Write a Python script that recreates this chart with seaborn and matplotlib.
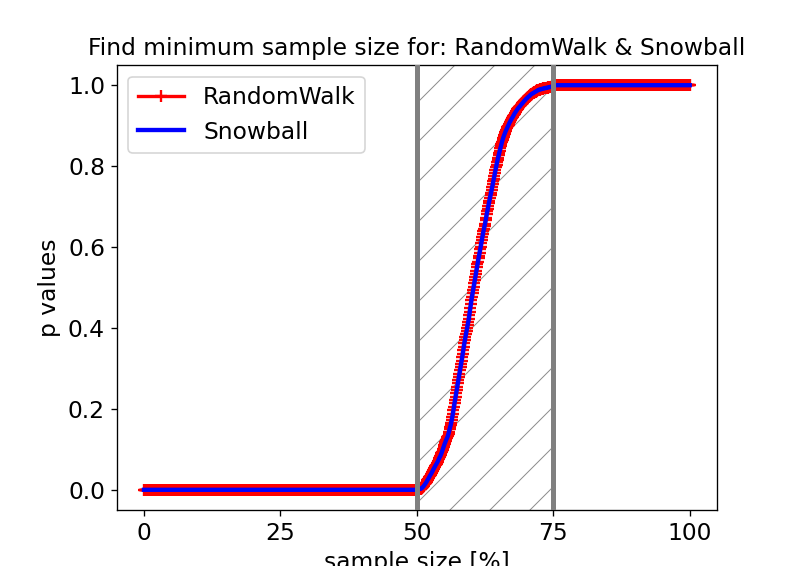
import numpy as np
import matplotlib
matplotlib.use("Agg")
import matplotlib.pyplot as plt
import seaborn as sns

# sample sizes in percent (grid of 0.1 %)
sample_size = np.linspace(0, 100, 1001)

# p values: flat at 0 up to 50 %, rising 50-75 %, flat at 1 after
p_before = [0.0] * 500                     # 0.0 .. 49.9
p_rise = [                                  # 50.0 .. 75.0 step 0.1
    0.000, 0.000, 0.001, 0.001, 0.002, 0.002, 0.002, 0.003, 0.003, 0.004,
    0.005, 0.007, 0.008, 0.010, 0.012, 0.014, 0.016, 0.018, 0.020, 0.023,
    0.025, 0.027, 0.030, 0.032, 0.035, 0.037, 0.039, 0.042, 0.044, 0.047,
    0.050, 0.052, 0.055, 0.057, 0.060, 0.062, 0.064, 0.067, 0.069, 0.072,
    0.075, 0.078, 0.081, 0.083, 0.087, 0.090, 0.094, 0.098, 0.102, 0.106,
    0.110, 0.114, 0.117, 0.121, 0.124, 0.127, 0.130, 0.134, 0.139, 0.144,
    0.150, 0.155, 0.160, 0.166, 0.173, 0.180, 0.188, 0.197, 0.205, 0.214,
    0.222, 0.230, 0.239, 0.247, 0.255, 0.263, 0.271, 0.279, 0.287, 0.295,
    0.303, 0.311, 0.319, 0.327, 0.336, 0.345, 0.353, 0.362, 0.370, 0.377,
    0.385, 0.392, 0.399, 0.407, 0.414, 0.421, 0.431, 0.440, 0.450, 0.459,
    0.469, 0.477, 0.486, 0.494, 0.502, 0.510, 0.518, 0.526, 0.534, 0.542,
    0.550, 0.557, 0.564, 0.572, 0.579, 0.586, 0.594, 0.601, 0.609, 0.617,
    0.625, 0.632, 0.639, 0.645, 0.652, 0.658, 0.666, 0.673, 0.681, 0.688,
    0.695, 0.702, 0.709, 0.715, 0.722, 0.728, 0.734, 0.741, 0.748, 0.755,
    0.762, 0.769, 0.776, 0.783, 0.790, 0.797, 0.803, 0.810, 0.816, 0.821,
    0.827, 0.833, 0.838, 0.844, 0.849, 0.855, 0.860, 0.865, 0.869, 0.873,
    0.877, 0.880, 0.884, 0.887, 0.890, 0.893, 0.896, 0.899, 0.902, 0.905,
    0.908, 0.910, 0.913, 0.915, 0.918, 0.920, 0.922, 0.925, 0.927, 0.930,
    0.932, 0.934, 0.936, 0.938, 0.940, 0.942, 0.944, 0.945, 0.947, 0.948,
    0.950, 0.952, 0.953, 0.955, 0.956, 0.958, 0.960, 0.961, 0.963, 0.964,
    0.966, 0.967, 0.968, 0.970, 0.971, 0.972, 0.973, 0.974, 0.976, 0.977,
    0.978, 0.979, 0.980, 0.980, 0.981, 0.982, 0.983, 0.984, 0.984, 0.985,
    0.986, 0.987, 0.988, 0.988, 0.989, 0.989, 0.990, 0.990, 0.990, 0.991,
    0.991, 0.991, 0.992, 0.992, 0.993, 0.993, 0.993, 0.993, 0.994, 0.994,
    0.994, 0.995, 0.995, 0.995, 0.996, 0.996, 0.996, 0.996, 0.997, 0.997,
    0.997,
]
p_after = [1.0] * 250                       # 75.1 .. 100.0

random_walk_p = np.array(p_before + p_rise + p_after)
snowball_p = np.array(p_before + p_rise + p_after)

series_names = ["RandomWalk", "Snowball"]
x_ticks = [0, 25, 50, 75, 100]
y_ticks = [0.0, 0.2, 0.4, 0.6, 0.8, 1.0]
region = (50, 75)

DPI = 120
plt.rcParams["font.size"] = 14
plt.rcParams["hatch.linewidth"] = 0.6

fig = plt.figure(figsize=(795 / DPI, 566 / DPI), dpi=DPI)
ax = fig.add_axes([0.1468, 0.0989, 0.7551, 0.7863])

ax.axvspan(region[0], region[1], fill=False, hatch="/", edgecolor="0.55",
           linewidth=0, zorder=0)

sns.lineplot(x=sample_size, y=random_walk_p, ax=ax, color="red",
             marker="+", markersize=7.2, markeredgewidth=1.4,
             markeredgecolor="red", linewidth=2, label=series_names[0],
             zorder=2)
sns.lineplot(x=sample_size, y=snowball_p, ax=ax, color="blue",
             linewidth=2.6, label=series_names[1], zorder=3)

for xv in region:
    ax.axvline(xv, color="gray", linewidth=3, zorder=4)

ax.set_xticks(x_ticks)
ax.set_yticks(y_ticks)
ax.set_xlim(-5, 105)
ax.set_ylim(-0.05, 1.05)
ax.set_title("Find minimum sample size for: RandomWalk & Snowball", fontsize=14)
ax.set_xlabel("sample size [%]", fontsize=14)
ax.set_ylabel("p values", fontsize=14)
ax.legend(loc="upper left", fontsize=14)

fig.savefig("out.png", dpi=DPI)
